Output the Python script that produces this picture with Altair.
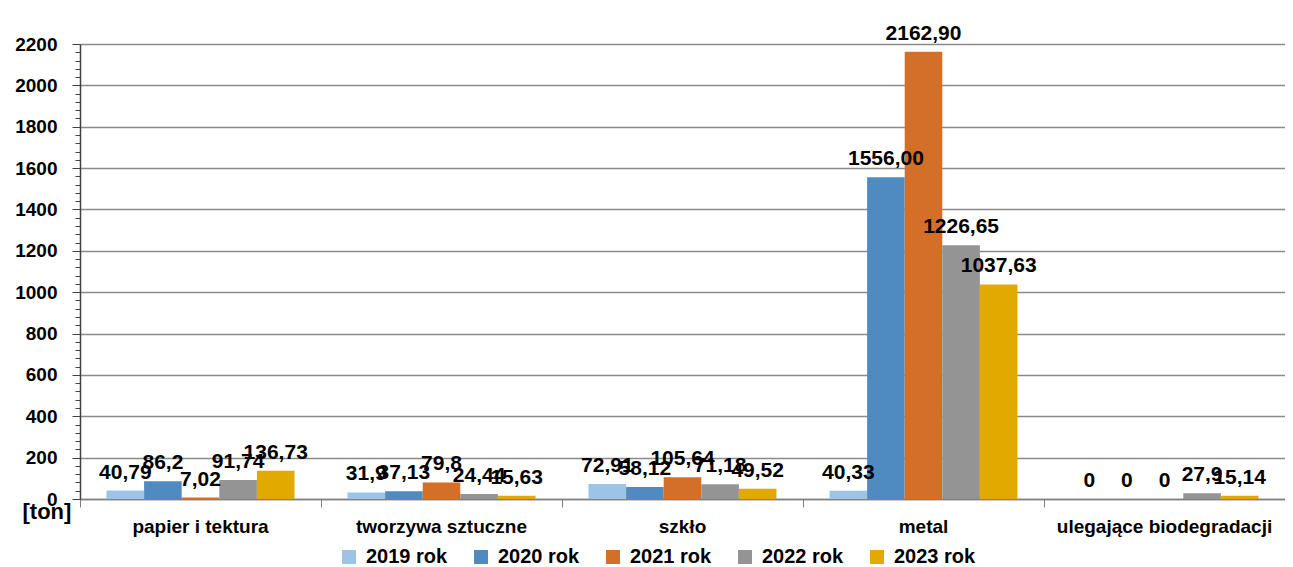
import altair as alt
import pandas as pd

categories = ["papier i tektura", "tworzywa sztuczne", "szkło", "metal", "ulegające biodegradacji"]
years = ["2019 rok", "2020 rok", "2021 rok", "2022 rok", "2023 rok"]

v2019 = [40.79, 31.9, 72.91, 40.33, 0]
v2020 = [86.2, 37.13, 58.12, 1556.00, 0]
v2021 = [7.02, 79.8, 105.64, 2162.90, 0]
v2022 = [91.74, 24.44, 71.18, 1226.65, 27.9]
v2023 = [136.73, 15.63, 49.52, 1037.63, 15.14]

l2019 = ["40,79", "31,9", "72,91", "40,33", "0"]
l2020 = ["86,2", "37,13", "58,12", "1556,00", "0"]
l2021 = ["7,02", "79,8", "105,64", "2162,90", "0"]
l2022 = ["91,74", "24,44", "71,18", "1226,65", "27,9"]
l2023 = ["136,73", "15,63", "49,52", "1037,63", "15,14"]

colors = ["#9dc3e6", "#4f8bc1", "#d46f2a", "#949494", "#e2a900"]

rows = []
for year, vals, labs in zip(years, [v2019, v2020, v2021, v2022, v2023],
                            [l2019, l2020, l2021, l2022, l2023]):
    for cat, v, lab in zip(categories, vals, labs):
        rows.append({"category": cat, "year": year, "value": v, "label": lab})
df = pd.DataFrame(rows)

FONT = "Liberation Sans"

x_enc = alt.X(
    "category:N", sort=categories, title=None,
    scale=alt.Scale(paddingInner=0, paddingOuter=0),
    axis=alt.Axis(
        bandPosition=0, ticks=True, tickSize=8,
        tickColor="#808080", domainColor="#808080", domainWidth=1.5,
        labelFontSize=19, labelFontWeight="bold", labelColor="black",
        labelFont=FONT, labelPadding=10, labelAngle=0, grid=False,
        labelLimit=0,
    ),
)
xoff_enc = alt.XOffset("year:N", sort=years, scale=alt.Scale(paddingInner=0, paddingOuter=0.705))
y_enc = alt.Y(
    "value:Q",
    scale=alt.Scale(domain=[0, 2200], nice=False),
    axis=alt.Axis(
        values=list(range(0, 2201, 40)),
        labelExpr="datum.value % 200 === 0 ? datum.value : ''",
        tickSize={"condition": {"test": "datum.value % 200 === 0", "value": 8}, "value": 5},
        gridColor={"condition": {"test": "datum.value % 200 === 0", "value": "#8a8a8a"}, "value": "transparent"},
        gridWidth=1.5,
        tickColor="#404040", domainColor="#404040", domainWidth=1.5,
        labelFontSize=19, labelFontWeight="bold", labelColor="black", labelFont=FONT,
        labelPadding=15,
        title="[ton]", titleAngle=0, titleX=-58, titleY=467,
        titleAlign="left", titleBaseline="middle",
        titleFontSize=22, titleFontWeight="bold", titleFont=FONT, titleColor="black",
    ),
)

base = alt.Chart(df).encode(x=x_enc, xOffset=xoff_enc, y=y_enc)

bars = base.mark_bar().encode(
    color=alt.Color(
        "year:N", sort=years,
        scale=alt.Scale(domain=years, range=colors),
        legend=alt.Legend(
            title=None, orient="none", legendX=259, legendY=503,
            direction="horizontal", columns=5, symbolType="square",
            symbolSize=196, symbolStrokeWidth=0, labelFontSize=20,
            labelFontWeight="bold", labelFont=FONT, labelColor="black",
            labelLimit=0, columnPadding=23, labelOffset=7, padding=0,
        ),
    )
)

text = base.mark_text(
    baseline="bottom", dy=-8, fontSize=21, fontWeight="bold", font=FONT, color="black"
).encode(text="label:N")

chart = (
    alt.layer(bars, text)
    .properties(
        width=1205, height=455,
        autosize=alt.AutoSizeParams(type="none"),
        padding={"left": 72, "top": 36, "right": 0, "bottom": 68},
    )
    .configure_view(fill="#c0c0c0", strokeWidth=0)
    .configure(background="white")
)

chart.save("out.html", embed_options={"renderer": "svg", "actions": False})
